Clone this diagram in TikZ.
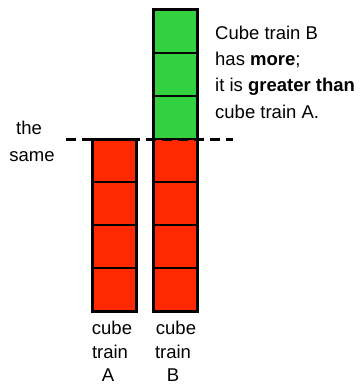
\documentclass[tikz,border=0pt]{standalone}
\usepackage{fontspec}
\setmainfont{Liberation Sans}
\definecolor{cubegreen}{RGB}{51,208,64}
\definecolor{cubered}{RGB}{255,40,0}
\begin{document}
\begin{tikzpicture}[x=1pt,y=-1pt,
  cube/.style={draw=black,line width=2pt,minimum width=44pt,minimum height=43pt,inner sep=0pt,outer sep=0pt},
  gcube/.style={cube,fill=cubegreen},
  rcube/.style={cube,fill=cubered},
  frame/.style={draw=black,line width=3pt},
  lbl/.style={inner sep=0pt,font=\fontsize{18.5}{26}\selectfont},
  sameline/.style={line width=3pt,dash pattern=on 10pt off 6pt}]
\useasboundingbox (0,0) rectangle (362,385);
% cube train A
\node[rcube] (a1) at (114,160.5) {};
\node[rcube] (a2) at (114,203.5) {};
\node[rcube] (a3) at (114,246.5) {};
\node[rcube] (a4) at (114,289.5) {};
\draw[frame] (a1.north west) rectangle (a4.south east);
% cube train B
\node[gcube] (b1) at (175,31.5) {};
\node[gcube] (b2) at (175,74.5) {};
\node[gcube] (b3) at (175,117.5) {};
\node[rcube] (b4) at (175,160.5) {};
\node[rcube] (b5) at (175,203.5) {};
\node[rcube] (b6) at (175,246.5) {};
\node[rcube] (b7) at (175,289.5) {};
\draw[frame] (b1.north west) rectangle (b7.south east);
% dashed line
\coordinate (dl) at (66,139);
\coordinate (dr) at (233,139);
\draw[sameline] (dl) -- (dr);
% labels
\node[lbl,anchor=base] (the) at (29,135) {the};
\node[lbl,anchor=base] (same) at (32,161) {same};
\node[lbl,anchor=base west] (t1) at (215,40) {Cube train B};
\node[lbl,anchor=base west] (t2) at (215,66) {has \textbf{more};};
\node[lbl,anchor=base west] (t3) at (215,92) {it is \textbf{greater than}};
\node[lbl,anchor=base west] (t4) at (215,118) {cube train A.};
\node[lbl,anchor=base] (ca1) at (112,334) {cube};
\node[lbl,anchor=base] (ca2) at (110,358) {train};
\node[lbl,anchor=base] (ca3) at (108,381) {A};
\node[lbl,anchor=base] (cb1) at (176,334) {cube};
\node[lbl,anchor=base] (cb2) at (173,358) {train};
\node[lbl,anchor=base] (cb3) at (173,381) {B};
\end{tikzpicture}
\end{document}
